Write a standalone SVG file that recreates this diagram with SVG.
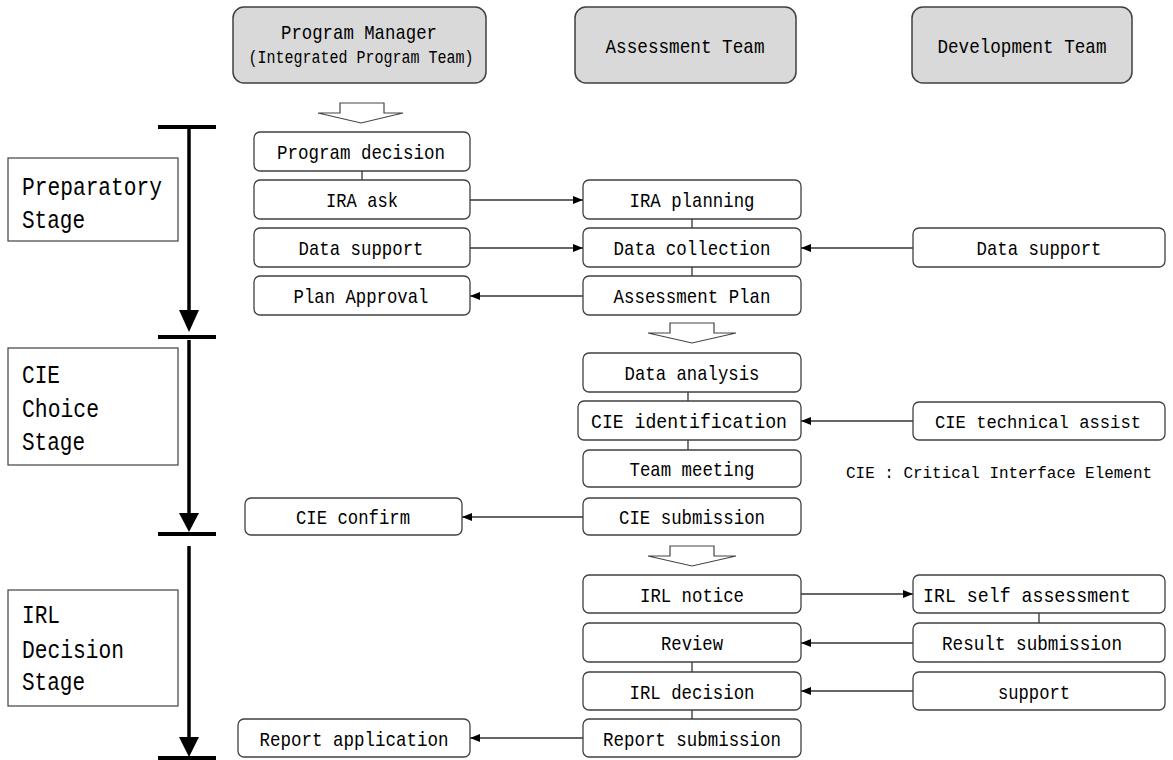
<svg xmlns="http://www.w3.org/2000/svg" width="1173" height="760" viewBox="0 0 1173 760">
<defs>
<marker id="ah" markerWidth="10" markerHeight="8" refX="10" refY="4" orient="auto" markerUnits="userSpaceOnUse"><path d="M0,0 L10,4 L0,8 z" fill="#000"/></marker>
</defs>
<style>
text{font-family:"Liberation Mono","DejaVu Sans Mono",monospace;fill:#000}
.hdr rect{fill:#d9d9d9;stroke:#404040;stroke-width:1.5}
.box rect{fill:#fff;stroke:#404040;stroke-width:1.3}
.stage rect{fill:#fff;stroke:#404040;stroke-width:1.2}
.t{font-size:21px;text-anchor:middle}
.t2{font-size:18px;text-anchor:middle}
.h{font-size:21px;text-anchor:middle}
.h2{font-size:19px;text-anchor:middle}
.s{font-size:25px}
.conn line{stroke:#333;stroke-width:1.3}
.hollow{fill:#fff;stroke:#444;stroke-width:1.2}
.bar{stroke:#000;stroke-width:4}
.tl{stroke:#000;stroke-width:3.5}
</style>

<g id="hdr-pm" class="hdr"><rect x="233" y="7" width="253" height="76" rx="11"/>
<text class="h" x="359" y="39" textLength="156" lengthAdjust="spacingAndGlyphs">Program Manager</text>
<text class="h2" x="361" y="63" textLength="225" lengthAdjust="spacingAndGlyphs">(Integrated Program Team)</text></g>
<g id="hdr-at" class="hdr"><rect x="575" y="7" width="221" height="76" rx="11"/>
<text class="h" x="685" y="53" textLength="159" lengthAdjust="spacingAndGlyphs">Assessment Team</text></g>
<g id="hdr-dt" class="hdr"><rect x="912" y="7" width="220" height="76" rx="11"/>
<text class="h" x="1022" y="53" textLength="169" lengthAdjust="spacingAndGlyphs">Development Team</text></g>

<g id="hollow-arrows">
<polygon class="hollow" points="340,103 384,103 384,113 403,113 361,123 318,113 340,113"/>
<polygon class="hollow" points="670,323 714,323 714,333 736,333 692,343 648,333 670,333"/>
<polygon class="hollow" points="670,546 714,546 714,556 736,556 692,566 648,556 670,556"/>
</g>

<g id="stages">
<line class="bar" x1="158" y1="127" x2="216" y2="127"/>
<line class="bar" x1="158" y1="337" x2="216" y2="337"/>
<line class="bar" x1="158" y1="534" x2="216" y2="534"/>
<line class="bar" x1="158" y1="758" x2="216" y2="758"/>
<line class="tl" x1="189" y1="129" x2="189" y2="312"/>
<polygon points="179,310 199,310 189,332"/>
<line class="tl" x1="189" y1="340" x2="189" y2="515"/>
<polygon points="179,513 199,513 189,532"/>
<line class="tl" x1="189" y1="546" x2="189" y2="739"/>
<polygon points="179,737 199,737 189,757"/>
</g>

<g id="stage-prep" class="stage"><rect x="8" y="158" width="170" height="83"/>
<text class="s" x="22" y="195" textLength="140" lengthAdjust="spacingAndGlyphs">Preparatory</text>
<text class="s" x="22" y="228" textLength="63" lengthAdjust="spacingAndGlyphs">Stage</text></g>
<g id="stage-cie" class="stage"><rect x="8" y="348" width="170" height="117"/>
<text class="s" x="22" y="383" textLength="38" lengthAdjust="spacingAndGlyphs">CIE</text>
<text class="s" x="22" y="417" textLength="77" lengthAdjust="spacingAndGlyphs">Choice</text>
<text class="s" x="22" y="450" textLength="63" lengthAdjust="spacingAndGlyphs">Stage</text></g>
<g id="stage-irl" class="stage"><rect x="8" y="590" width="170" height="116"/>
<text class="s" x="22" y="623" textLength="38" lengthAdjust="spacingAndGlyphs">IRL</text>
<text class="s" x="22" y="658" textLength="102" lengthAdjust="spacingAndGlyphs">Decision</text>
<text class="s" x="22" y="690" textLength="63" lengthAdjust="spacingAndGlyphs">Stage</text></g>

<g id="connectors" class="conn">
<line x1="362" y1="171" x2="362" y2="180"/>
<line x1="470" y1="200" x2="583" y2="200" marker-end="url(#ah)"/>
<line x1="470" y1="248" x2="583" y2="248" marker-end="url(#ah)"/>
<line x1="913" y1="248" x2="801" y2="248" marker-end="url(#ah)"/>
<line x1="583" y1="296" x2="470" y2="296" marker-end="url(#ah)"/>
<line x1="692" y1="219" x2="692" y2="228"/>
<line x1="692" y1="267" x2="692" y2="276"/>
<line x1="688" y1="392" x2="688" y2="401"/>
<line x1="688" y1="440" x2="688" y2="450"/>
<line x1="913" y1="421" x2="801" y2="421" marker-end="url(#ah)"/>
<line x1="583" y1="517" x2="462" y2="517" marker-end="url(#ah)"/>
<line x1="801" y1="594" x2="913" y2="594" marker-end="url(#ah)"/>
<line x1="1039" y1="613" x2="1039" y2="623"/>
<line x1="913" y1="643" x2="801" y2="643" marker-end="url(#ah)"/>
<line x1="913" y1="691" x2="801" y2="691" marker-end="url(#ah)"/>
<line x1="692" y1="662" x2="692" y2="672"/>
<line x1="692" y1="710" x2="692" y2="719"/>
<line x1="583" y1="738" x2="470" y2="738" marker-end="url(#ah)"/>
</g>

<g id="pd" class="box"><rect x="254" y="132" width="216" height="39" rx="6"/><text class="t" x="361" y="159" textLength="168" lengthAdjust="spacingAndGlyphs">Program decision</text></g>
<g id="ira" class="box"><rect x="254" y="180" width="216" height="39" rx="6"/><text class="t" x="362" y="207" textLength="72" lengthAdjust="spacingAndGlyphs">IRA ask</text></g>
<g id="ds1" class="box"><rect x="254" y="228" width="216" height="39" rx="6"/><text class="t" x="361" y="255" textLength="125" lengthAdjust="spacingAndGlyphs">Data support</text></g>
<g id="pa" class="box"><rect x="254" y="276" width="216" height="39" rx="6"/><text class="t" x="361" y="303" textLength="135" lengthAdjust="spacingAndGlyphs">Plan Approval</text></g>
<g id="cc" class="box"><rect x="245" y="498" width="217" height="37" rx="6"/><text class="t" x="353" y="524" textLength="114" lengthAdjust="spacingAndGlyphs">CIE confirm</text></g>
<g id="ra" class="box"><rect x="238" y="719" width="232" height="38" rx="6"/><text class="t" x="354" y="746" textLength="189" lengthAdjust="spacingAndGlyphs">Report application</text></g>

<g id="irap" class="box"><rect x="583" y="180" width="218" height="39" rx="6"/><text class="t" x="692" y="207" textLength="125" lengthAdjust="spacingAndGlyphs">IRA planning</text></g>
<g id="dc" class="box"><rect x="583" y="228" width="218" height="39" rx="6"/><text class="t" x="692" y="255" textLength="157" lengthAdjust="spacingAndGlyphs">Data collection</text></g>
<g id="ap" class="box"><rect x="583" y="276" width="218" height="39" rx="6"/><text class="t" x="692" y="303" textLength="157" lengthAdjust="spacingAndGlyphs">Assessment Plan</text></g>
<g id="da" class="box"><rect x="583" y="353" width="218" height="39" rx="6"/><text class="t" x="692" y="380" textLength="135" lengthAdjust="spacingAndGlyphs">Data analysis</text></g>
<g id="cid" class="box"><rect x="578" y="401" width="223" height="39" rx="6"/><text class="t" x="689" y="428" textLength="196" lengthAdjust="spacingAndGlyphs">CIE identification</text></g>
<g id="tm" class="box"><rect x="583" y="450" width="218" height="37" rx="6"/><text class="t" x="692" y="476" textLength="125" lengthAdjust="spacingAndGlyphs">Team meeting</text></g>
<g id="cs" class="box"><rect x="583" y="498" width="218" height="37" rx="6"/><text class="t" x="692" y="524" textLength="146" lengthAdjust="spacingAndGlyphs">CIE submission</text></g>
<g id="irln" class="box"><rect x="583" y="575" width="218" height="38" rx="6"/><text class="t" x="692" y="602" textLength="104" lengthAdjust="spacingAndGlyphs">IRL notice</text></g>
<g id="rev" class="box"><rect x="583" y="623" width="218" height="39" rx="6"/><text class="t" x="692" y="650" textLength="62" lengthAdjust="spacingAndGlyphs">Review</text></g>
<g id="irld" class="box"><rect x="583" y="672" width="218" height="38" rx="6"/><text class="t" x="692" y="699" textLength="125" lengthAdjust="spacingAndGlyphs">IRL decision</text></g>
<g id="rs" class="box"><rect x="583" y="719" width="218" height="38" rx="6"/><text class="t" x="692" y="746" textLength="178" lengthAdjust="spacingAndGlyphs">Report submission</text></g>

<g id="ds2" class="box"><rect x="913" y="228" width="252" height="39" rx="6"/><text class="t" x="1039" y="255" textLength="125" lengthAdjust="spacingAndGlyphs">Data support</text></g>
<g id="cta" class="box"><rect x="913" y="402" width="252" height="38" rx="6"/><text class="t2" x="1038" y="428" textLength="206" lengthAdjust="spacingAndGlyphs">CIE technical assist</text></g>
<g id="isa" class="box"><rect x="913" y="575" width="252" height="38" rx="6"/><text class="t" x="1027" y="602" textLength="208" lengthAdjust="spacingAndGlyphs">IRL self assessment</text></g>
<g id="res" class="box"><rect x="913" y="623" width="252" height="39" rx="6"/><text class="t" x="1032" y="650" textLength="180" lengthAdjust="spacingAndGlyphs">Result submission</text></g>
<g id="sup" class="box"><rect x="913" y="672" width="252" height="38" rx="6"/><text class="t" x="1034" y="699" textLength="72" lengthAdjust="spacingAndGlyphs">support</text></g>

<g id="note"><text x="846" y="478" font-size="16" textLength="306" lengthAdjust="spacingAndGlyphs">CIE : Critical Interface Element</text></g>
</svg>
